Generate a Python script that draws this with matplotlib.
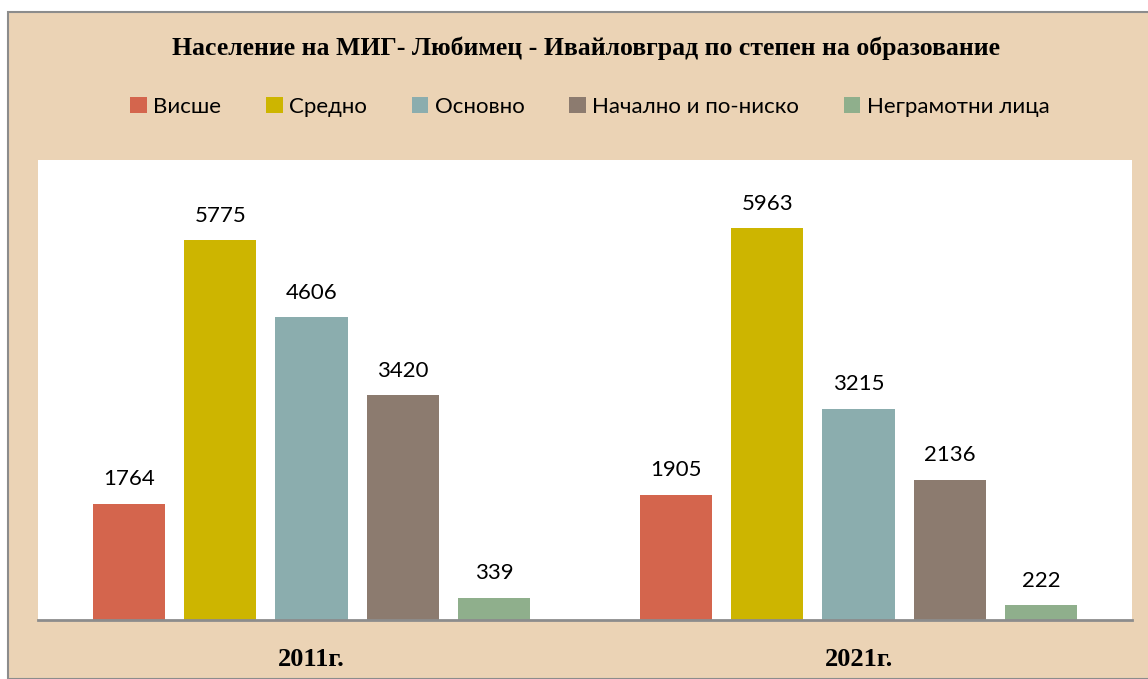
import matplotlib
matplotlib.use("Agg")
import matplotlib.pyplot as plt
from matplotlib.patches import Rectangle
import numpy as np

years = ["2011г.", "2021г."]
series = ["Висше", "Средно", "Основно", "Начално и по-ниско", "Неграмотни лица"]
values = [
	[1764, 1905],
	[5775, 5963],
	[4606, 3215],
	[3420, 2136],
	[339, 222],
]
colors = ["#D4654D", "#CDB500", "#8BADAE", "#8C7B6F", "#8FAF8C"]

bg = "#EBD3B5"
fig = plt.figure(figsize=(11.48, 6.79), dpi=100)
fig.patch.set_facecolor("white")
fig.add_artist(Rectangle((8 / 1148, 0), 1.0, (679 - 12) / 679, transform=fig.transFigure,
	facecolor=bg, edgecolor="#8c8c8c", linewidth=1.5, zorder=0))

ax = fig.add_axes([38 / 1148, 59 / 679, 1094 / 1148, 460 / 679])
ax.set_facecolor("white")

x = np.arange(len(years))
step = 0.1667
width = 0.132
for i, (name, vals) in enumerate(zip(series, values)):
	pos = x + (i - 2) * step
	bars = ax.bar(pos, vals, width, color=colors[i], label=name, zorder=2)
	for b, v in zip(bars, vals):
		ax.text(b.get_x() + b.get_width() / 2, v + 375, str(v), ha="center", va="center",
			fontsize=16, family="Lato", color="black")

ax.set_xlim(-0.5, 1.5)
ax.set_ylim(0, 7000)
ax.set_yticks([])
ax.set_xticks(x)
ax.set_xticklabels(years, family="Liberation Serif", fontweight="bold", fontsize=19)
ax.tick_params(axis="x", length=0, pad=20)
for s in ["top", "right", "left"]:
	ax.spines[s].set_visible(False)
ax.spines["bottom"].set_color("#8c8c8c")
ax.spines["bottom"].set_linewidth(2)

fig.text(586 / 1148, 1 - 48 / 679, "Население на МИГ- Любимец - Ивайловград по степен на образование",
	ha="center", va="center", family="Liberation Serif", fontweight="bold", fontsize=18.5)

fig.legend(loc="center", bbox_to_anchor=(590 / 1148, 1 - 107 / 679), ncol=5, frameon=False,
	handlelength=0.75, handleheight=0.75, handletextpad=0.3, columnspacing=2.0,
	prop={"family": "Lato", "size": 16})

fig.savefig("out.png", dpi=100)
